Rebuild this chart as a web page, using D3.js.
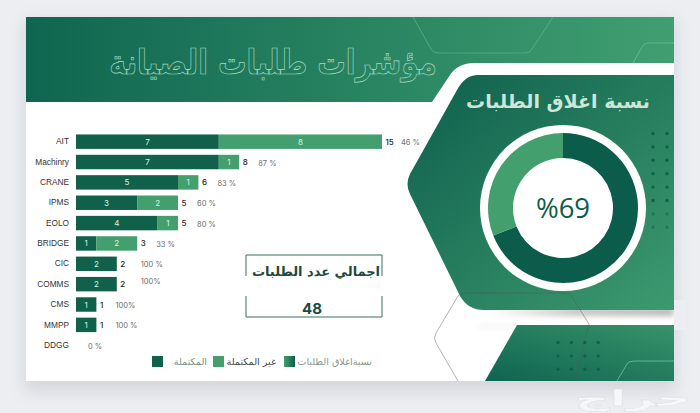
<!DOCTYPE html>
<html lang="ar">
  <head>
    <meta charset="utf-8">
    <title>مؤشرات طلبات الصيانة</title>
    <script src="https://cdn.jsdelivr.net/npm/d3@7"></script>
    <style>
      html, body { margin: 0; padding: 0; background: #eceef2; overflow: hidden; }
      svg { display: block; }
      .ar { font-family: "DejaVu Sans", sans-serif; }
      .cat text { font-family: "Liberation Sans", sans-serif; font-size: 8.3px; fill: #333; }
      .inbar { font-family: "Inter", sans-serif; font-size: 8px; fill: #d8f2e2; text-anchor: middle; }
      .total { font-family: "Inter", sans-serif; font-size: 8px; font-weight: 500; fill: #222; }
      .pct { font-family: "Inter", sans-serif; font-size: 7.5px; fill: #6d6d6d; }
    </style>
  </head>

  <body>
    <svg id="chart" width="700" height="413">
      <defs>
        <linearGradient id="headGrad" x1="0%" x2="100%" y1="0%" y2="0%">
          <stop offset="0%" stop-color="#0f6650"></stop>
          <stop offset="100%" stop-color="#409f71"></stop>
        </linearGradient>
        <linearGradient id="panelGrad" x1="0%" x2="100%" y1="0%" y2="100%">
          <stop offset="0%" stop-color="#0d5f4c"></stop>
          <stop offset="100%" stop-color="#3d9a6f"></stop>
        </linearGradient>
        <linearGradient id="lowGrad" x1="0%" x2="100%" y1="100%" y2="0%">
          <stop offset="0%" stop-color="#0e6450"></stop>
          <stop offset="100%" stop-color="#37936a"></stop>
        </linearGradient>
        <linearGradient id="keyGrad" x1="0%" x2="100%" y1="0%" y2="0%">
          <stop offset="0%" stop-color="#43a06e"></stop>
          <stop offset="100%" stop-color="#0f5c48"></stop>
        </linearGradient>
        <linearGradient id="bandShade" x1="0%" x2="100%" y1="0%" y2="0%">
          <stop offset="0%" stop-color="#000" stop-opacity="0"></stop>
          <stop offset="45%" stop-color="#000" stop-opacity="0.3"></stop>
          <stop offset="100%" stop-color="#000" stop-opacity="0.38"></stop>
        </linearGradient>
        <filter id="soft" x="-10%" y="-10%" width="120%" height="120%">
          <feGaussianBlur stdDeviation="8"></feGaussianBlur>
        </filter>
        <filter id="blur3" x="-10%" y="-100%" width="120%" height="300%">
          <feGaussianBlur stdDeviation="3"></feGaussianBlur>
        </filter>
      </defs>
      <g id="slide"></g>
      <g id="bars"></g>
      <g id="side"></g>
    </svg>

    <script>
      // chart values
      const categories = ["AIT", "Machinry", "CRANE", "IPMS", "EOLO", "BRIDGE", "CIC", "COMMS", "CMS", "MMPP", "DDGG"];
      const completed = [7, 7, 5, 3, 4, 1, 2, 2, 1, 1, 0];
      const open = [8, 1, 1, 2, 1, 2, 0, 0, 0, 0, 0];
      const percentLabels = ["46 %", "87 %", "83 %", "60 %", "80 %", "33 %", "100 %", "100%", "100%", "100 %", "0 %"];
      const closeRate = [69, 31];
      const legendLabels = ["المكتملة", "غير المكتملة", "نسبةاغلاق الطلبات"];
      const totalRequests = "48";

      const dark = "#11604a";
      const mid = "#43a06e";

      const svg = d3.select("#chart");
      const slide = d3.select("#slide");
      const bars = d3.select("#bars");
      const side = d3.select("#side");

      // background, header and decoration
      slide.append("rect").attr("x", 24).attr("y", 20).attr("width", 652).attr("height", 372)
        .attr("fill", "#9da3a8").attr("opacity", 0.3).attr("filter", "url(#soft)");
      slide.append("rect").attr("x", 26).attr("y", 17).attr("width", 648).attr("height", 364).attr("fill", "#fff");
      slide.append("rect").attr("x", 26).attr("y", 17).attr("width", 648).attr("height", 85).attr("fill", "url(#headGrad)");

      // outline hexagons over the header
      slide.append("path").attr("d", "M413 17L431 49Q433 53 438 53L526 53Q530 53 532 49L553 17")
        .attr("fill", "none").attr("stroke", "#6dbb95").attr("stroke-width", 0.6);
      slide.append("path").attr("d", "M633 63L642 47Q644 43 649 43L674 43")
        .attr("fill", "none").attr("stroke", "#7cc6a1").attr("stroke-width", 0.6);

      // white cut behind the right panel
      slide.append("path").attr("d", "M432 102L450 75Q458 63 474 63L674 63L674 102Z").attr("fill", "#fff");

      // shadows in the white gaps on the right
      slide.append("rect").attr("x", 490).attr("y", 309).attr("width", 184).attr("height", 6)
        .attr("fill", "url(#bandShade)").attr("filter", "url(#blur3)");
      slide.append("rect").attr("x", 478).attr("y", 325).attr("width", 50).attr("height", 4)
        .attr("fill", "#000").attr("opacity", 0.05).attr("filter", "url(#blur3)");

      // cover so the shadow stops at the slide edge
      slide.append("rect").attr("x", 674).attr("y", 300).attr("width", 12).attr("height", 30).attr("fill", "#eceef2");

      // lower right panel
      slide.append("path").attr("d", "M517 325L674 325L674 381L485 381Z").attr("fill", "url(#lowGrad)");

      // right panel
      slide.append("path")
        .attr("d", "M478 75L674 75L674 310L484 310Q468 310 460 296L410 194Q405 184 410 174L457 90Q465 75 478 75Z")
        .attr("fill", "url(#panelGrad)");

      // grey hexagon outline
      slide.append("path").attr("d", "M458 381L436 343Q433 338 436 333L458 296Q460 293 464 293L566 293Q570 293 572 297L589 324L575 381")
        .attr("fill", "none").attr("stroke", "#555").attr("stroke-width", 0.6).attr("opacity", 0.75);
      slide.append("path").attr("d", "M617 381L627 364Q629 361 634 361L674 361")
        .attr("fill", "none").attr("stroke", "#8fd6b1").attr("stroke-width", 0.6);

      // dots
      const dotsRight = d3.cross([653, 667], d3.range(8));
      slide.selectAll(".dotR").data(dotsRight).enter().append("circle")
        .attr("cx", d => d[0]).attr("cy", d => 133.5 + d[1] * 13.4).attr("r", 1.7)
        .attr("fill", "#0c5544").attr("opacity", d => d[1] > 5 ? 0.4 : 0.8);
      const dotsLow = d3.cross(d3.range(4), d3.range(3));
      slide.selectAll(".dotL").data(dotsLow).enter().append("circle")
        .attr("cx", d => 558 + d[0] * 13.4).attr("cy", d => 342.5 + d[1] * 13.4).attr("r", 1.7)
        .attr("fill", "#0c5544").attr("opacity", 0.7);

      // title
      slide.append("text").attr("class", "ar")
        .attr("transform", "translate(273,74) scale(1,1.2)")
        .attr("text-anchor", "middle")
        .attr("direction", "rtl")
        .attr("font-size", 28.5)
        .attr("font-weight", "bold")
        .attr("fill", "none")
        .attr("stroke", "#a6dcc3")
        .attr("stroke-width", 0.6)
        .text("مؤشرات طلبات الصيانة");

      // scales
      const x = d3.scaleLinear().domain([0, 15]).range([76, 382]);
      const y = d3.scaleBand().domain(categories).range([131.5, 355.4]).paddingInner(0.29).paddingOuter(0.145);

      // category axis
      const axis = d3.axisLeft(y).tickSize(0).tickPadding(7);
      bars.append("g").attr("class", "cat").attr("transform", "translate(76,0)").call(axis)
        .call(g => g.select(".domain").remove());

      // bars
      const rows = categories.map((c, i) => ({
        name: c, done: completed[i], notDone: open[i], total: completed[i] + open[i], pct: percentLabels[i]
      }));
      bars.selectAll(".done").data(rows.filter(d => d.done > 0)).enter().append("rect")
        .attr("x", x(0)).attr("y", d => y(d.name))
        .attr("width", d => x(d.done) - x(0)).attr("height", y.bandwidth()).attr("fill", dark);
      bars.selectAll(".notDone").data(rows.filter(d => d.notDone > 0)).enter().append("rect")
        .attr("x", d => x(d.done)).attr("y", d => y(d.name))
        .attr("width", d => x(d.total) - x(d.done)).attr("height", y.bandwidth()).attr("fill", mid);

      // labels in and next to the bars
      const mid_y = d => y(d.name) + y.bandwidth() / 2 + 3;
      bars.selectAll(".doneLabel").data(rows.filter(d => d.done > 0)).enter().append("text")
        .attr("class", "inbar").attr("x", d => x(d.done / 2)).attr("y", mid_y).text(d => d.done);
      bars.selectAll(".openLabel").data(rows.filter(d => d.notDone > 0)).enter().append("text")
        .attr("class", "inbar").attr("x", d => x(d.done + d.notDone / 2)).attr("y", mid_y).text(d => d.notDone);
      bars.selectAll(".total").data(rows.filter(d => d.total > 0)).enter().append("text")
        .attr("class", "total").attr("x", d => x(d.total) + 3.5).attr("y", mid_y).text(d => d.total);

      // percent labels were placed by hand in the original, CIC/COMMS sit a bit further out
      bars.selectAll(".pct").data(rows).enter().append("text")
        .attr("class", "pct")
        .attr("x", d => x(d.total) + (d.total === 0 ? 12 : d.total === 2 ? 24 : 19))
        .attr("y", d => mid_y(d) + (d.name === "COMMS" ? -3 : 0.5))
        .text(d => d.pct);

      // legend
      const legendX = [152, 213, 284];
      const legendFill = [dark, mid, "url(#keyGrad)"];
      const legendEnd = [207, 276, 372];
      const legendColor = ["#6f8f82", "#444", "#7f9c90"];
      bars.selectAll(".key").data(legendX).enter().append("rect")
        .attr("x", d => d).attr("y", 356).attr("width", 11).attr("height", 11)
        .attr("fill", (d, i) => legendFill[i]);
      bars.selectAll(".keyText").data(legendLabels).enter().append("text")
        .attr("class", "ar")
        .attr("x", (d, i) => legendEnd[i]).attr("y", 365)
        .attr("text-anchor", "start")
        .attr("direction", "rtl")
        .attr("font-size", 9.6)
        .attr("fill", (d, i) => legendColor[i])
        .text(d => d);

      // total box
      const box = bars.append("g");
      box.append("path").attr("d", "M246 276V255H382V276M246 296V317H382V296")
        .attr("fill", "none").attr("stroke", "#3c6e5c").attr("stroke-width", 1);
      box.append("text").attr("class", "ar")
        .attr("x", 316).attr("y", 276).attr("text-anchor", "middle").attr("direction", "rtl")
        .attr("font-size", 13).attr("font-weight", "bold").attr("fill", "#1c4a3c")
        .text("اجمالي عدد الطلبات");
      box.append("text")
        .attr("x", 312).attr("y", 314).attr("text-anchor", "middle")
        .attr("font-family", "Inter, sans-serif")
        .attr("font-size", 15).attr("font-weight", "bold").attr("fill", "#1c4a3c")
        .text(totalRequests);

      // donut
      const cx = 563, cy = 208;
      side.append("text").attr("class", "ar")
        .attr("x", 558).attr("y", 108).attr("text-anchor", "middle").attr("direction", "rtl")
        .attr("font-size", 19).attr("font-weight", "bold").attr("fill", "#cfe5da")
        .text("نسبة اغلاق الطلبات");
      const donut = side.append("g").attr("transform", "translate(" + cx + "," + cy + ")");
      donut.append("circle").attr("r", 83).attr("fill", "#fff");
      const pie = d3.pie().sort(null);
      const arc = d3.arc().innerRadius(50).outerRadius(75);
      donut.selectAll(".slice").data(pie(closeRate)).enter().append("path")
        .attr("d", arc)
        .attr("fill", (d, i) => i === 0 ? "#0b5c4a" : mid);
      donut.append("text")
        .attr("y", 10).attr("text-anchor", "middle")
        .attr("font-family", "Open Sans, sans-serif")
        .attr("font-size", 27.5).attr("font-weight", 400).attr("fill", "#0f5c4a")
        .text("%" + closeRate[0]);

      // watermark under the slide
      svg.append("text").attr("class", "ar")
        .attr("transform", "translate(633,406) scale(2.2,1)")
        .attr("text-anchor", "middle").attr("direction", "rtl")
        .attr("font-size", 22).attr("font-weight", "bold").attr("fill", "#f6f7f8")
        .attr("stroke", "#d9dce0").attr("stroke-width", 0.3)
        .text("حراج");
    </script>
  </body>
</html>
